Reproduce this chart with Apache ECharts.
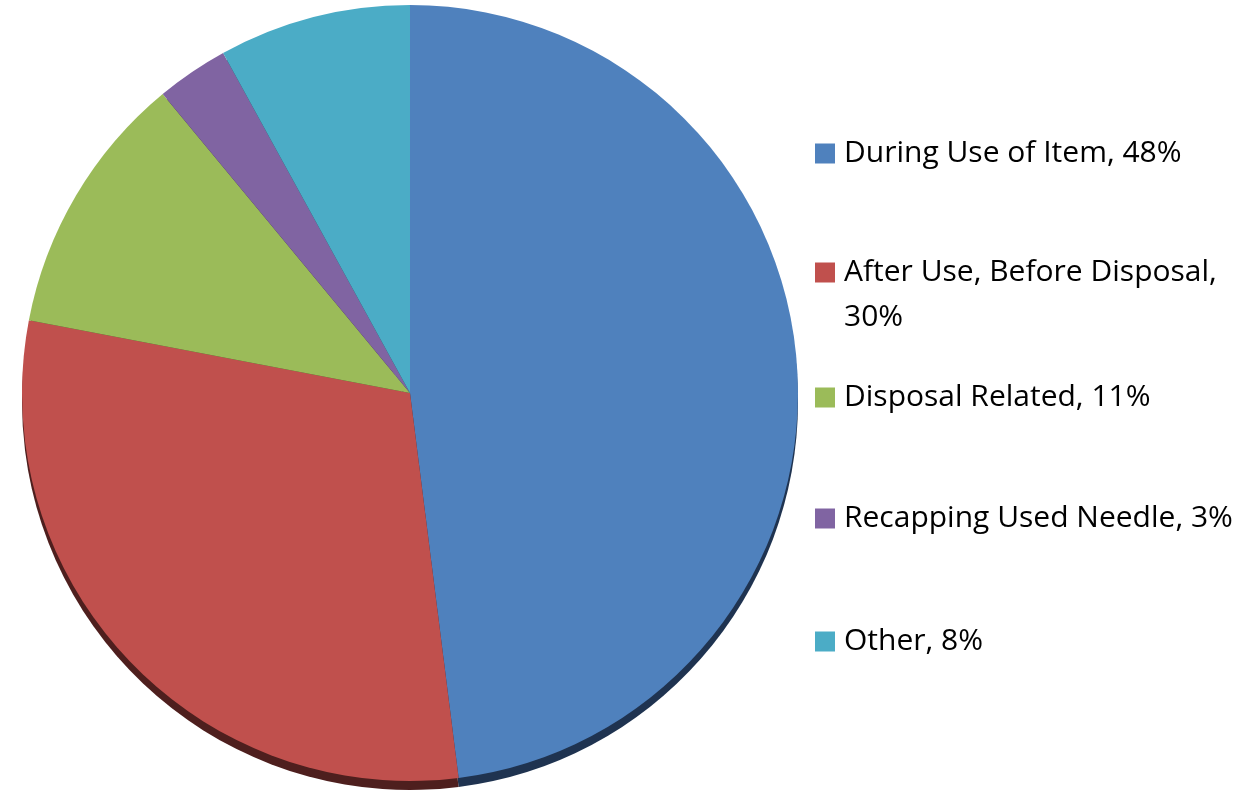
<!DOCTYPE html>
<html>
<head>
<meta charset="utf-8">
<script src="https://cdn.jsdelivr.net/npm/echarts@6/dist/echarts.min.js"></script>
<style>
html,body{margin:0;padding:0;background:#fff;}
#chart{width:1253px;height:791px;}
</style>
</head>
<body>
<div id="chart"></div>
<script>
const categories = ["During Use of Item", "After Use, Before Disposal", "Disposal Related", "Recapping Used Needle", "Other"];
const values = [48, 30, 11, 3, 8];
const colors = ["#4F81BD", "#C0504D", "#9BBB59", "#8064A2", "#4BACC6"];
const edgeColors = ["#1F3350", "#4E1F1E", "#3E4B24", "#332841", "#1E4550"];
const legendTops = [131, 205, 375, 496, 619];

const chart = echarts.init(document.getElementById('chart'));
const font = 'Open Sans';
const legends = categories.map((c, i) => ({
  data: [c],
  orient: 'vertical',
  left: 815,
  top: legendTops[i],
  padding: 0,
  icon: 'rect',
  itemWidth: 20,
  itemHeight: 20,
  itemGap: 0,
  selectedMode: false,
  textStyle: {
    fontFamily: font,
    fontSize: 30,
    color: '#000',
    lineHeight: 45,
    padding: [0, 0, 0, 4]
  },
  formatter: name => {
    const v = values[categories.indexOf(name)];
    return name === "After Use, Before Disposal" ? "\n" + name + ",\n" + v + "%" : name + ", " + v + "%";
  }
}));

chart.setOption({
  animation: false,
  color: colors,
  legend: legends,
  series: [
    {
      type: 'pie',
      name: 'edge',
      silent: true,
      legendHoverLink: false,
      center: [410, 402],
      radius: 388,
      startAngle: 90,
      clockwise: true,
      label: {show: false},
      labelLine: {show: false},
      data: categories.map((c, i) => ({name: c + ' ', value: values[i], itemStyle: {color: edgeColors[i]}}))
    },
    {
      type: 'pie',
      center: [410, 393],
      radius: 388,
      startAngle: 90,
      clockwise: true,
      label: {show: false},
      labelLine: {show: false},
      itemStyle: {borderWidth: 0},
      data: categories.map((c, i) => ({name: c, value: values[i]}))
    }
  ]
});
</script>
</body>
</html>
